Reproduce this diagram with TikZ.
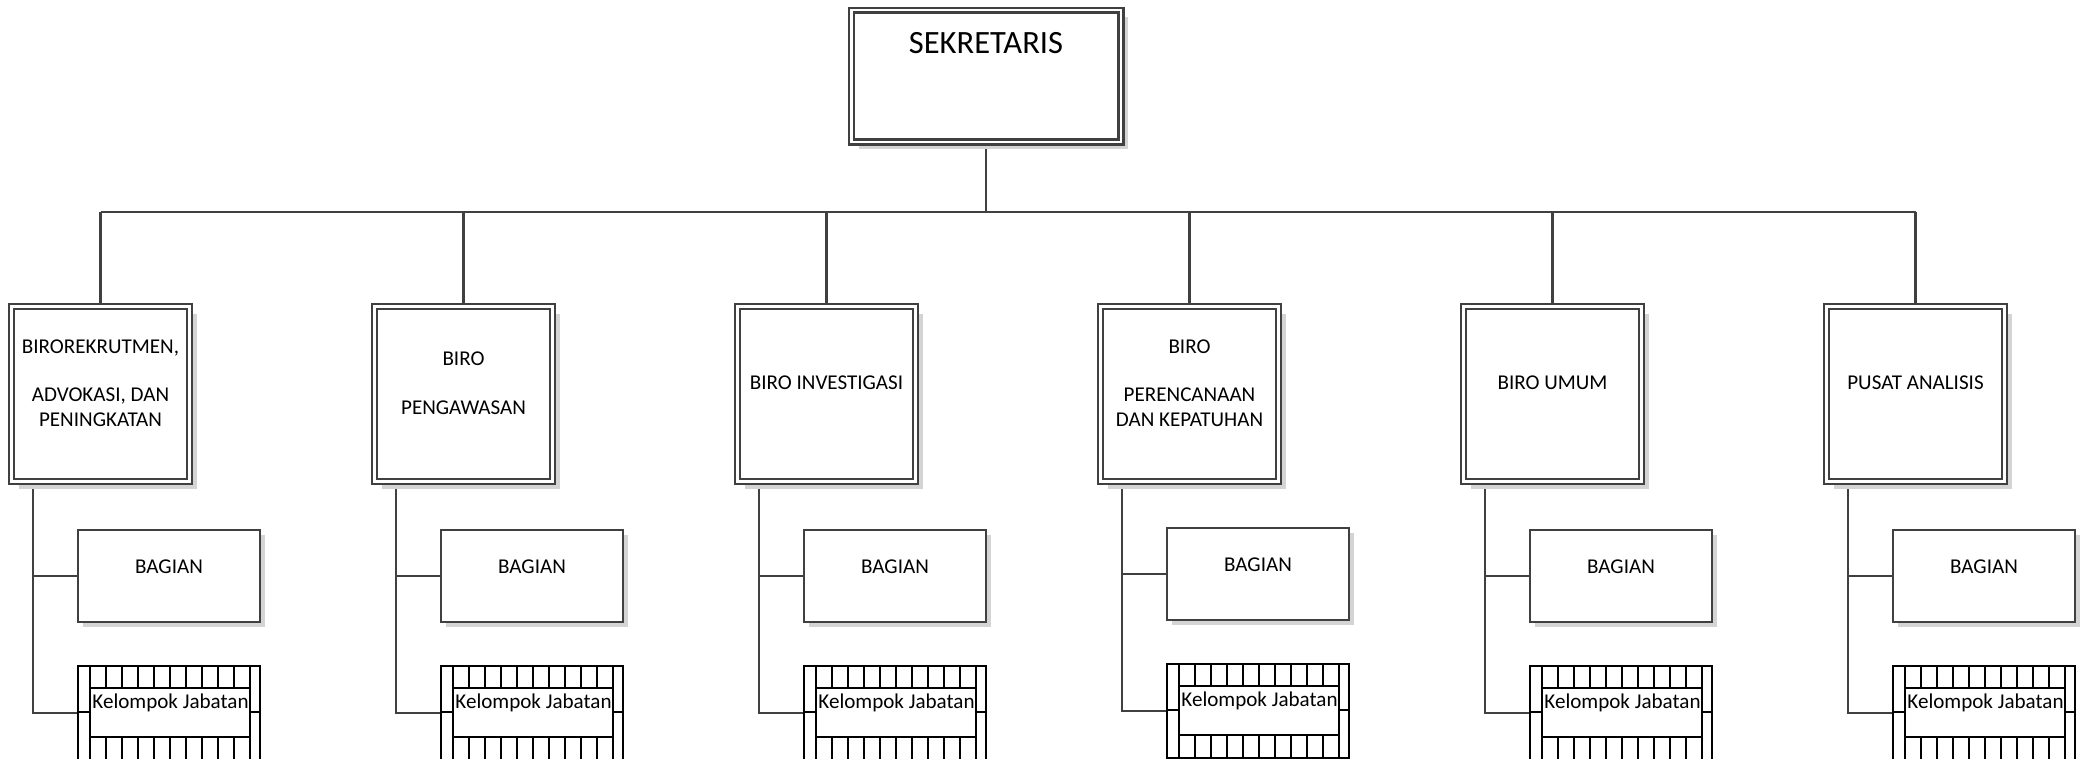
\documentclass[tikz,border=0pt]{standalone}
\usepackage{fontspec}
\setmainfont{Carlito}
\usetikzlibrary{calc,shadows}
\pgfdeclarelayer{background}
\pgfsetlayers{background,main}

\begin{document}
\begin{tikzpicture}[x=0.02cm, y=-0.02cm,
  wire/.style={draw=black!75, line width=1.35pt},
  topbox/.style={draw=black!75, line width=1.2pt, double=white, double distance=1.6pt,
    fill=white, inner sep=0pt, outer sep=0pt,
    general shadow={fill=black!17, shadow xshift=4.2pt, shadow yshift=-4.2pt}},
  birobox/.style={topbox, minimum width=3.56cm, minimum height=3.5cm},
  unitbox/.style={draw=black!75, line width=1.3pt, fill=white, inner sep=0pt, outer sep=0pt,
    minimum width=3.64cm, minimum height=1.84cm,
    general shadow={fill=black!17, shadow xshift=2.8pt, shadow yshift=-2.8pt}},
  groupbox/.style={draw=black, line width=1.25pt, fill=white, inner sep=0pt, outer sep=0pt,
    minimum width=3.64cm, minimum height=1.88cm},
  grid/.style={draw=black, line width=1.25pt},
  label12/.style={font=\fontsize{12}{13.8}\selectfont, align=center, inner sep=0pt},
  head/.style={font=\fontsize{18.5}{22}\selectfont, inner sep=0pt}
]
\useasboundingbox (0,0) rectangle (2085,758);

% top office
\node[topbox, minimum width=5.39cm, minimum height=2.64cm] (sek) at (986.25,76) {};
\node[head, anchor=base] (sekt) at (986,53) {SEKRETARIS};

% bureau boxes
\foreach \i in {0,...,5}
  \node[birobox] (biro\i) at (100.5+363*\i,394) {};

\node[label12] (birot0) at ($(biro0.center)+(0,-11)$) {BIROREKRUTMEN,\\[13.8pt]ADVOKASI, DAN\\PENINGKATAN};
\node[label12] (birot1) at ($(biro1.center)+(0,-11)$) {BIRO\\[13.8pt]PENGAWASAN};
\node[label12] (birot2) at ($(biro2.center)+(0,-11)$) {BIRO INVESTIGASI};
\node[label12] (birot3) at ($(biro3.center)+(0,-11)$) {BIRO\\[13.8pt]PERENCANAAN\\DAN KEPATUHAN};
\node[label12] (birot4) at ($(biro4.center)+(0,-11)$) {BIRO UMUM};
\node[label12] (birot5) at ($(biro5.center)+(0,-11)$) {PUSAT ANALISIS};

% sections and functional groups under each bureau
\foreach \i/\dy in {0/0,1/0,2/0,3/-2,4/0,5/0} {
  \node[unitbox] (bag\i) at (169+363*\i,576+\dy) {};
  \node[label12, anchor=base] (bagt\i) at (169+363*\i,573+\dy) {BAGIAN};
  \node[groupbox] (kj\i) at (169+363*\i,713+\dy) {};
  \begin{scope}[shift={(kj\i.north west)}]
    \draw[grid] (12,22) rectangle (172,71);
    \foreach \k in {0,...,10} {
      \draw[grid] (12+16*\k,0) -- (12+16*\k,22);
      \draw[grid] (12+16*\k,71) -- (12+16*\k,94);
    }
    \draw[grid] (0,46) -- (12,46);
    \draw[grid] (172,46) -- (182,46);
    \node[label12, anchor=base] (kjt\i) at (92.5,42) {Kelompok Jabatan};
  \end{scope}
  \coordinate (stem\i) at (33+363*\i,480);
}

\coordinate (bus) at (0,212);

% connectors
\begin{pgfonlayer}{background}
  \draw[wire] (sek.south) -- (sek.south |- bus);
  \draw[wire] (biro0.north |- bus) -- (biro5.north |- bus);
  \foreach \i in {0,...,5} {
    \draw[wire] (biro\i.north) -- (biro\i.north |- bus);
    \draw[wire] (stem\i) |- (kj\i.west);
    \draw[wire] (stem\i |- bag\i.west) -- (bag\i.west);
  }
\end{pgfonlayer}
\end{tikzpicture}
\end{document}
